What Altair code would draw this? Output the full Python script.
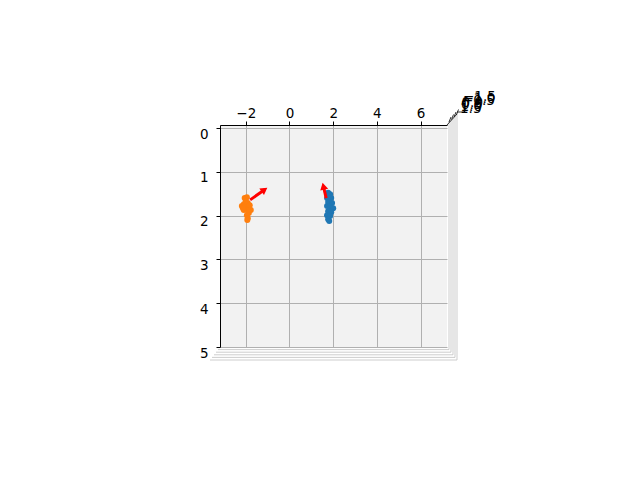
import altair as alt
import numpy as np
import pandas as pd

# --- data ---
orange_x = [-2.05, -1.95, -2.00, -2.09, -1.91, -2.18, -2.05, -1.86, -1.95, -2.09, -1.86, -1.95, -1.91, -1.82, -1.77, -2.13, -1.93]
orange_y = [1.60, 1.58, 1.67, 1.74, 1.71, 1.78, 1.80, 1.80, 1.87, 1.87, 1.94, 1.99, 2.06, 1.76, 1.87, 1.83, 2.10]
blue_x = [1.77, 1.86, 1.72, 1.91, 1.77, 1.95, 1.72, 1.86, 2.00, 1.77, 1.91, 1.72, 1.86, 1.77, 1.82]
blue_y = [1.48, 1.51, 1.60, 1.60, 1.69, 1.71, 1.78, 1.80, 1.83, 1.90, 1.92, 1.99, 2.01, 2.08, 2.12]

arrow_x0 = [-1.80, 1.68]
arrow_y0 = [1.64, 1.60]
arrow_x1 = [-0.98, 1.52]
arrow_y1 = [1.35, 1.26]

x_ticks = [-2, 0, 2, 4, 6]
y_ticks = [0, 1, 2, 3, 4, 5]
z_labels = ["\u22121.5", "\u22121.0", "\u22120.5", "0.0", "0.5", "1.0", "1.5"]

W, H = 227, 222
XDOM = [-3.18, 7.21]
YDOM = [-0.07, 5.0]

pts = pd.DataFrame({
    "x": orange_x + blue_x,
    "y": orange_y + blue_y,
    "s": ["orange"] * len(orange_x) + ["blue"] * len(blue_x),
})

arr = pd.DataFrame({"x0": arrow_x0, "y0": arrow_y0, "x1": arrow_x1, "y1": arrow_y1})
px_per_x = W / (XDOM[1] - XDOM[0])
px_per_y = H / (YDOM[1] - YDOM[0])
dxp = (arr.x1 - arr.x0) * px_per_x
dyp = (arr.y1 - arr.y0) * px_per_y
arr["angle"] = (np.degrees(np.arctan2(dxp, -dyp)) + 360) % 360
arr["hx"] = arr.x0 + 0.8 * (arr.x1 - arr.x0)
arr["hy"] = arr.y0 + 0.8 * (arr.y1 - arr.y0)

xs = alt.Scale(domain=XDOM, nice=False, zero=False)
ys = alt.Scale(domain=YDOM, nice=False, zero=False, reverse=True)

base_x = alt.X("x:Q", scale=xs, axis=alt.Axis(orient="top", values=x_ticks, title=None, format="d",
                                              grid=True, gridColor="#b0b0b0", gridWidth=1,
                                              tickSize=4, domainColor="black", tickColor="black",
                                              labelPadding=1))
base_y = alt.Y("y:Q", scale=ys, axis=alt.Axis(orient="left", values=y_ticks, title=None, format="d",
                                              grid=True, gridColor="#b0b0b0", gridWidth=1,
                                              tickSize=4, domainColor="black", tickColor="black",
                                              labelOffset=6, labelPadding=8))

points = alt.Chart(pts).mark_circle(size=36, opacity=1).encode(
    x=base_x, y=base_y,
    color=alt.Color("s:N", scale=alt.Scale(domain=["orange", "blue"], range=["#ff7f0e", "#1f77b4"]), legend=None),
)

shafts = alt.Chart(arr).mark_rule(color="red", strokeWidth=3).encode(
    x=alt.X("x0:Q", scale=xs), y=alt.Y("y0:Q", scale=ys), x2="hx:Q", y2="hy:Q"
)
heads = alt.Chart(arr).mark_point(shape="triangle-up", filled=True, color="red", size=65, opacity=1).encode(
    x=alt.X("hx:Q", scale=xs), y=alt.Y("hy:Q", scale=ys), angle=alt.Angle("angle:Q", scale=None)
)

# 3D box edges seen nearly edge-on (decoration, pixel space)
segs = []
for k in range(1, 6):
    segs.append({"a": W + 2 * k, "b": -1 - 2.2 * k, "a2": W + 2 * k, "b2": H + 2.6 * k, "c": "#c0c0c0"})
    segs.append({"a": -2 * k, "b": H + 2.6 * k, "a2": W + 2 * k, "b2": H + 2.6 * k, "c": "#c0c0c0"})
segs.append({"a": W, "b": 0, "a2": W + 10, "b2": -11, "c": "black"})
for k in range(4):
    segs.append({"a": W + 2 + 2.5 * k, "b": -3 - 2.5 * k, "a2": W + 4 + 2.5 * k, "b2": -8 - 2.5 * k, "c": "black"})
segs.append({"a": W + 10, "b": -13, "a2": W + 18, "b2": -13, "c": "black"})
deco = alt.Chart(pd.DataFrame(segs)).mark_rule(strokeWidth=0.8).encode(
    x=alt.X("a:Q", scale=None), y=alt.Y("b:Q", scale=None), x2="a2:Q", y2="b2:Q",
    color=alt.Color("c:N", scale=None)
)

zdf = pd.DataFrame({
    "t": z_labels,
    "a": [243, 242.5, 242, 241.5, 241, 240.5, 240],
    "b": [-28, -26, -24, -22, -20, -18, -16],
})
ztext = alt.Chart(zdf).mark_text(fontSize=13.5, font="DejaVu Sans", color="black", align="left",
                                 baseline="middle").encode(
    x=alt.X("a:Q", scale=None), y=alt.Y("b:Q", scale=None), text="t:N"
)

chart = alt.layer(deco, points, shafts, heads, ztext).properties(
    width=W, height=H,
    autosize=alt.AutoSizeParams(type="none"),
    padding={"left": 212, "top": 117, "right": 185, "bottom": 125},
).configure_view(fill="#f2f2f2", stroke=None).configure_axis(
    labelFont="DejaVu Sans", labelFontSize=13.5, labelColor="black"
)

chart.save("out.html", embed_options={"renderer": "svg", "actions": False})
